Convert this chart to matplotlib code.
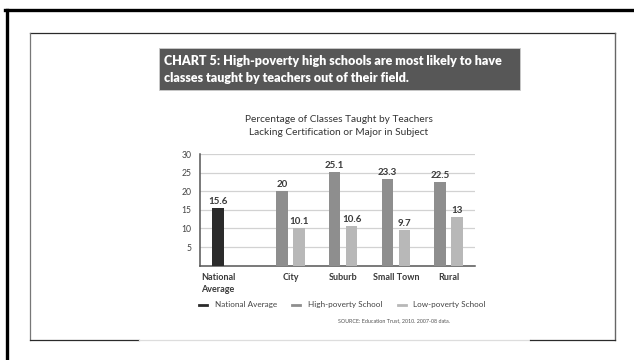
import matplotlib
matplotlib.use("Agg")
import matplotlib.pyplot as plt
from matplotlib.lines import Line2D
from matplotlib.patches import Rectangle

plt.rcParams["font.family"] = ["Lato", "DejaVu Sans"]

# Data
categories = ["National\nAverage", "City", "Suburb", "Small Town", "Rural"]
national_avg = [15.6]
high_poverty = [20, 25.1, 23.3, 22.5]
low_poverty = [10.1, 10.6, 9.7, 13]
y_ticks = [5, 10, 15, 20, 25, 30]

series_names = ["National Average", "High-poverty School", "Low-poverty School"]
colors = ["#2b2b2b", "#8e8e8e", "#b8b8b8"]

W, H = 634, 360
fig = plt.figure(figsize=(W / 100, H / 100), dpi=100)
fig.patch.set_facecolor("white")


def fx(px):
    return px / W


def fy(py):
    return 1 - py / H


# Frames
fig.add_artist(Line2D([fx(6.5), fx(6.5)], [fy(9.5), fy(360)], color="black", lw=2.4))
fig.add_artist(Line2D([fx(5.3), fx(634)], [fy(9.5), fy(9.5)], color="black", lw=2.4))
fig.add_artist(Line2D([fx(30), fx(615)], [fy(33), fy(33)], color="#2a2a2a", lw=0.9))
fig.add_artist(Line2D([fx(30), fx(30)], [fy(33), fy(340)], color="#777777", lw=0.9))
fig.add_artist(Line2D([fx(615), fx(615)], [fy(33), fy(340)], color="#666666", lw=1.0))
fig.add_artist(Line2D([fx(30), fx(139)], [fy(340), fy(340)], color="#2a2a2a", lw=0.9))
fig.add_artist(Line2D([fx(139), fx(530)], [fy(340), fy(340)], color="#dddddd", lw=0.9))
fig.add_artist(Line2D([fx(530), fx(615)], [fy(340), fy(340)], color="#2a2a2a", lw=0.9))

# Headline box
fig.add_artist(Rectangle((fx(159), fy(90)), fx(520) - fx(159), fy(48) - fy(90),
                         facecolor="#575757", edgecolor="#cccccc", lw=0.6))
fig.text(fx(164), fy(61), "CHART 5: High-poverty high schools are most likely to have",
         color="white", fontsize=9.0, fontweight="heavy", va="center", ha="left")
fig.text(fx(164), fy(78), "classes taught by teachers out of their field.",
         color="white", fontsize=9.0, fontweight="heavy", va="center", ha="left")

# Chart title
fig.text(fx(339), fy(120), "Percentage of Classes Taught by Teachers",
         color="#333333", fontsize=7.3, ha="center", va="center")
fig.text(fx(339), fy(132.5), "Lacking Certification or Major in Subject",
         color="#333333", fontsize=7.3, ha="center", va="center")

# Axes
ax = fig.add_axes([fx(200), fy(265.7), fx(475) - fx(200), fy(154) - fy(265.7)])
nat_pos = [0]
group_pos = [1.375 + i for i in range(len(high_poverty))]
offset = 0.161
bw = 0.22

bars_n = ax.bar(nat_pos, national_avg, width=bw, color=colors[0], zorder=3)
bars_h = ax.bar([p - offset for p in group_pos], high_poverty, width=bw, color=colors[1], zorder=3)
bars_l = ax.bar([p + offset for p in group_pos], low_poverty, width=bw, color=colors[2], zorder=3)

for bars in (bars_n, bars_h, bars_l):
    ax.bar_label(bars, labels=[f"{v:g}" for v in bars.datavalues], padding=1.5,
                 fontsize=7, fontweight="bold", color="#3a3a3a")

ax.set_xlim(-0.342, 4.877)
ax.set_ylim(0, 30)
ax.set_yticks(y_ticks)
ax.set_yticklabels([str(t) for t in y_ticks], fontsize=6.2, color="#444444")
ax.tick_params(axis="y", length=0, pad=6)
ax.set_xticks(nat_pos + group_pos)
ax.set_xticklabels(categories, fontsize=6.5, fontweight="bold", color="#3a3a3a",
                   linespacing=1.5)
ax.tick_params(axis="x", length=0, pad=5)
for lbl in ax.get_xticklabels():
    lbl.set_va("top")
ax.get_xticklabels()[0].set_ha("center")

ax.grid(axis="y", color="#d2d2d2", lw=0.9, zorder=0)
for s in ("top", "right"):
    ax.spines[s].set_visible(False)
for s in ("left", "bottom"):
    ax.spines[s].set_color("#555555")
    ax.spines[s].set_linewidth(1.1)

# Legend
handles = [Line2D([0], [0], color=c, lw=2) for c in colors]
fig.legend(handles, series_names, loc="center left",
           bbox_to_anchor=(fx(199), fy(305)), ncol=3, frameon=False,
           fontsize=5.9, handlelength=1.0, handletextpad=0.9, columnspacing=1.9,
           labelcolor="#444444", borderaxespad=0, borderpad=0)

# Source note
fig.text(fx(338), fy(321), "SOURCE: Education Trust, 2010. 2007-08 data.",
         fontsize=3.9, color="#555555", ha="left", va="center")

fig.savefig("out.png", dpi=100)
